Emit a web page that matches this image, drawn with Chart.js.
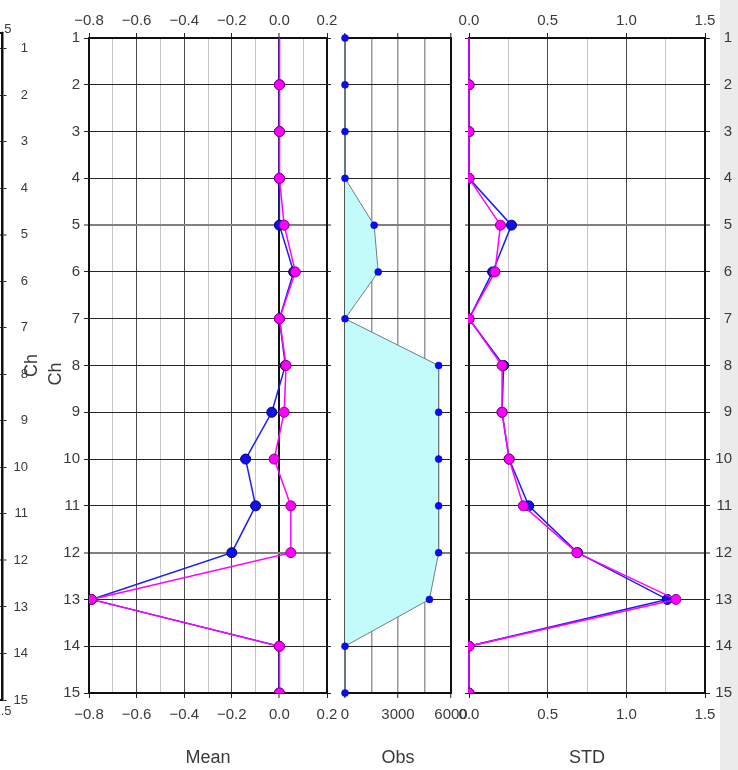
<!DOCTYPE html>
<html>
<head>
<meta charset="utf-8">
<title>Ch profile</title>
<script src="https://cdn.jsdelivr.net/npm/chart.js@4.4.1/dist/chart.umd.min.js"></script>
<style>
  html, body { margin: 0; padding: 0; background: #fff; overflow: hidden; }
  #stage { position: relative; width: 738px; height: 770px; overflow: hidden; background: #fff; }
  #stage canvas { position: absolute; top: 0; }
  #edge { position: absolute; left: 720px; top: 0; width: 18px; height: 770px; background: #ebebeb; }
</style>
</head>
<body>
<div id="stage">
  <div id="edge"></div>
  <canvas id="prev" width="738" height="770" style="left:-700px"></canvas>
  <canvas id="mean" width="738" height="770" style="left:0"></canvas>
  <canvas id="obs" width="738" height="770" style="left:0"></canvas>
  <canvas id="std" width="738" height="770" style="left:0"></canvas>
</div>
<script>
// Per-channel profile: mean, number of observations and standard deviation
const channels = [1, 2, 3, 4, 5, 6, 7, 8, 9, 10, 11, 12, 13, 14, 15];
const meanBlue = [0, 0, 0, 0, 0.000, 0.060, 0, 0.025, -0.032, -0.142, -0.100, -0.200, -0.790, 0, 0];
const meanPink = [0, 0, 0, 0, 0.020, 0.067, 0, 0.028, 0.020, -0.022, 0.048, 0.048, -0.790, 0, 0];
const obsCount = [0, 0, 0, 0, 1650, 1880, 0, 5300, 5300, 5300, 5300, 5300, 4780, 0, 0];
const stdBlue  = [0, 0, 0, 0, 0.270, 0.150, 0, 0.220, 0.210, 0.255, 0.380, 0.690, 1.260, 0, 0];
const stdPink  = [0, 0, 0, 0, 0.200, 0.165, 0, 0.210, 0.210, 0.255, 0.345, 0.685, 1.315, 0, 0];

const meanTickLabels = [-0.8, -0.6, -0.4, -0.2, 0.0, 0.2];
const obsTickLabels  = [0, 3000, 6000];
const stdTickLabels  = [0.0, 0.5, 1.0, 1.5];
const axisTitle = 'Ch';

const W = 738, H = 770;
const INK = '#3a3a3a';
Chart.defaults.font.family = "'Liberation Sans', Arial, Helvetica, sans-serif";
Chart.defaults.color = INK;

const near = (a, b) => Math.abs(a - b) < 1e-7;
const inList = (list, v) => list.some(t => near(t, v));
const fmtDec = v => near(v, 0) ? '0.0' : v.toFixed(1).replace('-', '\u2212');
const fmtInt = v => String(Math.round(v));

// horizontal row lines; rows 5 and 12 render as a softer, wider line
function rowLine(v) {
  return (v === 5 || v === 12) ? { color: '#808080', width: 2 } : { color: '#262626', width: 1 };
}

function xScale(o, pos) {
  const top = pos === 'top';
  const t = top ? o.x.topTick : o.x.bottomTick;
  return {
    type: 'linear', position: pos, min: o.x.min, max: o.x.max,
    ticks: {
      stepSize: o.x.step, autoSkip: false, maxRotation: 0, minRotation: 0,
      display: top ? o.x.topLabels : o.x.bottomLabels,
      padding: t.pad, font: { size: o.fontSize }, color: INK,
      callback: v => inList(o.x.labels, v) ? o.x.fmt(v) : ''
    },
    grid: {
      display: true,
      drawOnChartArea: top,
      drawTicks: t.len > 0,
      tickLength: t.len,
      color: c => o.x.grid(c.tick ? c.tick.value : 0).color,
      lineWidth: c => o.x.grid(c.tick ? c.tick.value : 0).width,
      tickColor: c => (c.tick && inList(o.x.labels, c.tick.value)) ? '#222' : 'rgba(0,0,0,0)',
      tickWidth: 1
    },
    border: { display: true, color: o.border[pos].color, width: o.border[pos].width },
    title: (!top && o.x.title) ? {
      display: true, text: o.x.title, color: INK,
      font: { size: 18 }, padding: { top: 0, bottom: 1 }
    } : { display: false },
    afterFit: s => { s.height = top ? o.area.top : H - o.area.bottom; }
  };
}

function yScale(o, pos) {
  const left = pos === 'left';
  const t = left ? o.y.leftTick : o.y.rightTick;
  return {
    type: 'linear', position: pos, reverse: true, min: o.y.min, max: 15,
    ticks: {
      stepSize: 1, includeBounds: false, autoSkip: false,
      display: left ? o.y.leftLabels : o.y.rightLabels,
      padding: t.pad, crossAlign: left ? 'near' : 'far',
      font: { size: o.fontSize }, color: INK,
      callback: v => inList(channels, v) ? String(Math.round(v)) : ''
    },
    grid: {
      drawOnChartArea: left,
      drawTicks: t.len > 0,
      tickLength: t.len,
      color: c => rowLine(c.tick ? c.tick.value : 0).color,
      lineWidth: c => rowLine(c.tick ? c.tick.value : 0).width,
      tickColor: '#222', tickWidth: 1
    },
    border: { display: true, color: o.border[pos].color, width: o.border[pos].width },
    title: (left && o.y.title) ? {
      display: true, text: o.y.title, color: INK,
      font: { size: 18 }, padding: { top: o.y.titleGap, bottom: 0 }
    } : { display: false },
    afterFit: s => { s.width = left ? o.y.leftW : o.y.rightW; }
  };
}

function makePanel(id, o) {
  return new Chart(document.getElementById(id), {
    type: 'line',
    data: { datasets: o.datasets },
    options: {
      responsive: false, animation: false, devicePixelRatio: 1, events: [],
      indexAxis: 'y',
      layout: { padding: {
        left: o.area.left - o.y.leftW, right: W - o.area.right - o.y.rightW, top: 0, bottom: 0
      } },
      plugins: { legend: { display: false }, tooltip: { enabled: false }, sideTitle: o.sideTitle || false },
      scales: {
        x: xScale(o, 'top'),
        x2: xScale(o, 'bottom'),
        y: yScale(o, 'left'),
        y2: yScale(o, 'right')
      }
    },
    plugins: o.sideTitle ? [sideTitle] : []
  });
}

// extra rotated axis caption
const sideTitle = {
  id: 'sideTitle',
  afterDraw(chart, args, opts) {
    const ctx = chart.ctx;
    ctx.save();
    ctx.font = "18px 'Liberation Sans', Arial, sans-serif";
    ctx.fillStyle = INK;
    ctx.translate(opts.x, opts.y);
    ctx.rotate(-Math.PI / 2);
    ctx.textAlign = 'center';
    ctx.textBaseline = 'middle';
    ctx.fillText(opts.text, 0, 0);
    ctx.restore();
  }
};

function profile(values, line, fill, edge, order, clip) {
  return {
    data: values.map((v, i) => ({ x: v, y: channels[i] })),
    xAxisID: 'x', yAxisID: 'y',
    borderColor: line, borderWidth: 1.5,
    pointBackgroundColor: fill, pointBorderColor: edge, pointBorderWidth: 1,
    pointRadius: channels.map((c, i) => i === 0 ? 0 : 5),
    tension: 0, fill: false, order: order, clip: clip
  };
}

const black2 = { color: '#111', width: 2 };
const fineGrid = (labels) => v => near(v, 0) && labels === meanTickLabels
  ? { color: '#111', width: 2 }
  : (inList(labels, v) ? { color: '#4a4a4a', width: 1 } : { color: '#c6c6c6', width: 1 });

// cut-off neighbour panel at the left edge (only its right axis shows)
makePanel('prev', {
  area: { left: 466.5, right: 702.5, top: 33, bottom: 700 },
  fontSize: 13,
  x: { min: 0, max: 1.5, step: 0.25, labels: stdTickLabels, fmt: fmtDec, grid: fineGrid(stdTickLabels),
       topLabels: true, bottomLabels: true,
       topTick: { len: 0, pad: -4 }, bottomTick: { len: 0, pad: 4 } },
  y: { min: 0.667, leftLabels: false, rightLabels: true, leftW: 0, rightW: 25.5,
       leftTick: { len: 0, pad: 0 }, rightTick: { len: 4, pad: 7 } },
  border: { top: black2, bottom: black2, left: black2, right: { color: '#111', width: 2.5 } },
  datasets: []
});

makePanel('mean', {
  area: { left: 89, right: 327, top: 38, bottom: 693 },
  fontSize: 15,
  x: { min: -0.8, max: 0.2, step: 0.1, labels: meanTickLabels, fmt: fmtDec, grid: fineGrid(meanTickLabels),
       topLabels: true, bottomLabels: true, title: 'Mean',
       topTick: { len: 5, pad: 3.5 }, bottomTick: { len: 5, pad: 7.5 } },
  y: { min: 1, leftLabels: true, rightLabels: false, leftW: 89, rightW: 4,
       leftTick: { len: 5, pad: 4 }, rightTick: { len: 4, pad: 0 },
       title: axisTitle, titleGap: 21.7 },
  border: { top: black2, bottom: black2, left: black2, right: black2 },
  sideTitle: { text: axisTitle, x: 56, y: 374 },
  datasets: [
    profile(meanPink, '#ff00ff', '#ff00ff', '#8a008a', 0, { left: 0, right: 0, top: 0, bottom: 0 }),
    profile(meanBlue, '#1a1aff', '#1010ee', '#00006e', 1, { left: 0, right: 0, top: 0, bottom: 0 })
  ]
});

makePanel('obs', {
  area: { left: 345, right: 451, top: 38, bottom: 693 },
  fontSize: 15,
  x: { min: 0, max: 6000, step: 1500, labels: obsTickLabels, fmt: fmtInt,
       grid: () => ({ color: '#9a9a9a', width: 1.5 }),
       topLabels: false, bottomLabels: true, title: 'Obs',
       topTick: { len: 5, pad: 3.5 }, bottomTick: { len: 5, pad: 7.5 } },
  y: { min: 1, leftLabels: false, rightLabels: false, leftW: 0, rightW: 0,
       leftTick: { len: 0, pad: 0 }, rightTick: { len: 0, pad: 0 } },
  border: { top: black2, bottom: black2, left: { color: '#555', width: 2 }, right: black2 },
  datasets: [{
    data: obsCount.map((v, i) => ({ x: v, y: channels[i] })),
    xAxisID: 'x', yAxisID: 'y',
    borderColor: '#6f7d7d', borderWidth: 1,
    backgroundColor: '#c3fbfb', fill: 'origin',
    pointBackgroundColor: '#0a0aff', pointBorderColor: '#0000b0', pointBorderWidth: 0.5,
    pointRadius: 3.5, tension: 0, clip: false
  }]
});

makePanel('std', {
  area: { left: 469, right: 705, top: 38, bottom: 693 },
  fontSize: 15,
  x: { min: 0, max: 1.5, step: 0.25, labels: stdTickLabels, fmt: fmtDec, grid: fineGrid(stdTickLabels),
       topLabels: true, bottomLabels: true, title: 'STD',
       topTick: { len: 5, pad: 3.5 }, bottomTick: { len: 5, pad: 7.5 } },
  y: { min: 1, leftLabels: false, rightLabels: true, leftW: 4, rightW: 27,
       leftTick: { len: 4, pad: 0 }, rightTick: { len: 5, pad: 5 } },
  border: { top: black2, bottom: black2, left: black2, right: black2 },
  datasets: [
    profile(stdPink, '#ff00ff', '#ff00ff', '#8a008a', 0, { left: 1, right: 0, top: 0, bottom: 0 }),
    profile(stdBlue, '#1a1aff', '#1010ee', '#00006e', 1, { left: 1, right: 0, top: 0, bottom: 0 })
  ]
});
</script>
</body>
</html>
